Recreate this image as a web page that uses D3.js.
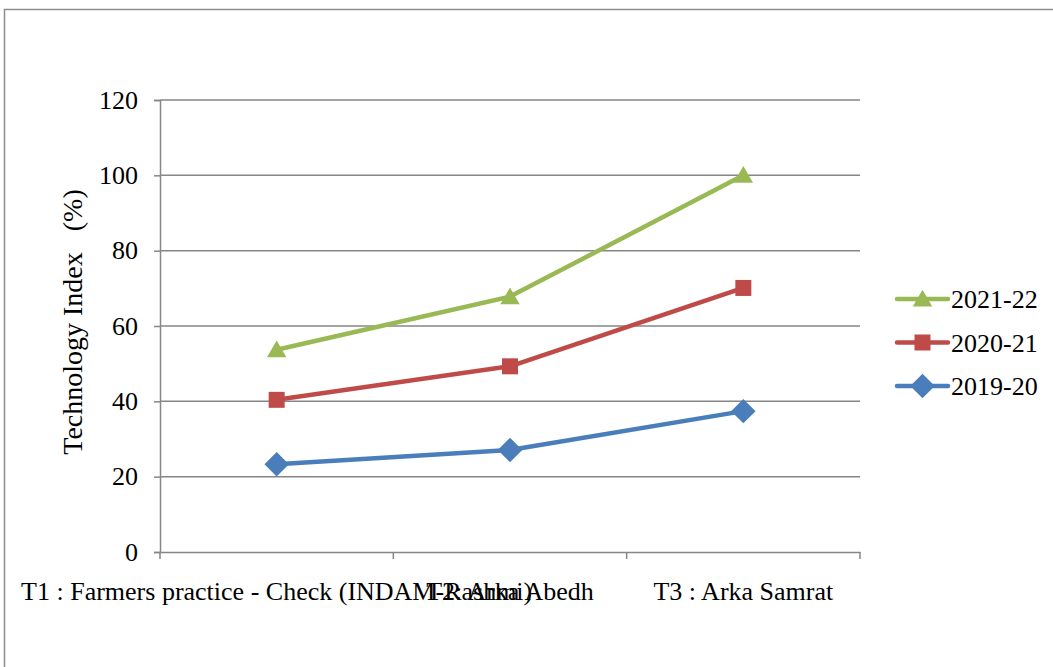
<!DOCTYPE html>
<html>
<head>
<meta charset="utf-8">
<script src="https://cdn.jsdelivr.net/npm/d3@7"></script>
<style>
  body { margin: 0; background: #fff; }
  svg { display: block; }
  svg text { font-family: "Liberation Serif", "Times New Roman", serif; }
</style>
</head>
<body>
<div class="chart"></div>
<script>
const categories = ["T1 : Farmers practice - Check (INDAM-Rashmi)", "T2: Arka Abedh", "T3 : Arka Samrat"];
const seriesNames = ["2019-20", "2020-21", "2021-22"];
const values2019 = [23.3, 27.1, 37.4];
const values2020 = [40.4, 49.3, 70.1];
const values2021 = [53.7, 67.8, 100];
const yTicks = [0, 20, 40, 60, 80, 100, 120];

const width = 1053;
const height = 667;
const margin = {left: 160, right: 193, top: 100, bottom: 115};
const fontSize = 26;

// rotated square for the diamond marker
const squareDiamond = {
  draw(ctx, size) {
    const r = Math.sqrt(size / 2);
    ctx.moveTo(0, -r); ctx.lineTo(r, 0); ctx.lineTo(0, r); ctx.lineTo(-r, 0); ctx.closePath();
  }
};
const flatTriangle = {
  draw(ctx, size) {
    const w = Math.sqrt(size) * 0.72, h = w * 0.95;
    ctx.moveTo(0, -h * 0.55); ctx.lineTo(w * 0.55, h * 0.45); ctx.lineTo(-w * 0.55, h * 0.45); ctx.closePath();
  }
};

const series = [
  {name: seriesNames[2], values: values2021, color: "#98b954", shape: flatTriangle, size: 600},
  {name: seriesNames[1], values: values2020, color: "#be4b48", shape: d3.symbolSquare, size: 256},
  {name: seriesNames[0], values: values2019, color: "#4a7ebb", shape: squareDiamond, size: 300}
];

const svg = d3.select('.chart')
              .append('svg')
              .attr('width', width)
              .attr('height', height);

// outer frame
svg.append("rect")
   .attr("x", 4.5).attr("y", 9.5)
   .attr("width", width + 20).attr("height", height + 20)
   .attr("fill", "none")
   .attr("stroke", "#8c8c8c")
   .attr("stroke-width", 1.5);

const x = d3.scaleBand()
            .domain(categories)
            .range([margin.left, width - margin.right]);

const y = d3.scaleLinear()
            .domain([0, 120])
            .range([height - margin.bottom, margin.top]);

// gridlines
svg.append("g")
   .selectAll("line")
   .data(yTicks.slice(1))
   .join("line")
     .attr("x1", margin.left).attr("x2", width - margin.right)
     .attr("y1", d => y(d)).attr("y2", d => y(d))
     .attr("stroke", "#868686")
     .attr("stroke-width", 1.5);

// y axis
const yAxis = svg.append("g")
   .attr("transform", `translate(${margin.left},0)`)
   .call(d3.axisLeft(y).tickValues(yTicks).tickSize(6).tickPadding(16));
yAxis.attr("font-family", null).attr("font-size", null);
yAxis.select(".domain").attr("stroke", "#868686").attr("stroke-width", 1.5);
yAxis.selectAll(".tick line").attr("stroke", "#868686").attr("stroke-width", 1.5);
yAxis.selectAll("text").attr("font-size", fontSize).attr("fill", "#000");

// x axis
const xAxis = svg.append("g")
   .attr("transform", `translate(0,${y(0)})`)
   .call(d3.axisBottom(x).tickSize(0).tickPadding(0));
xAxis.attr("font-family", null).attr("font-size", null);
xAxis.select(".domain").attr("stroke", "#868686").attr("stroke-width", 1.5);
xAxis.selectAll(".tick text").attr("font-size", fontSize).attr("fill", "#000")
     .attr("y", 48).attr("dy", 0);
// category boundary ticks
svg.append("g")
   .selectAll("line")
   .data(categories.concat([null]))
   .join("line")
     .attr("x1", (d, i) => margin.left + i * x.bandwidth())
     .attr("x2", (d, i) => margin.left + i * x.bandwidth())
     .attr("y1", y(0)).attr("y2", y(0) + 7)
     .attr("stroke", "#868686")
     .attr("stroke-width", 1.5);

// y title
svg.append("text")
   .attr("transform", `translate(82,322) rotate(-90)`)
   .attr("text-anchor", "middle")
   .attr("font-size", 28)
   .attr("xml:space", "preserve")
   .text("Technology Index   (%)");

const line = d3.line()
               .x((d, i) => x(categories[i]) + x.bandwidth() / 2)
               .y(d => y(d));

// draw bottom series first
series.slice().reverse().forEach(s => {
  svg.append("path")
     .datum(s.values)
     .attr("d", line)
     .attr("fill", "none")
     .attr("stroke", s.color)
     .attr("stroke-width", 4.5)
     .attr("stroke-linejoin", "round");
  svg.append("g")
     .selectAll("path")
     .data(s.values)
     .join("path")
       .attr("transform", (d, i) => `translate(${x(categories[i]) + x.bandwidth() / 2},${y(d)})`)
       .attr("d", d3.symbol().type(s.shape).size(s.size))
       .attr("fill", s.color);
});

// legend
const legend = svg.append("g")
   .selectAll("g")
   .data(series)
   .join("g")
     .attr("transform", (d, i) => `translate(897,${299 + i * 43.5})`);
legend.append("line")
   .attr("x1", 0).attr("x2", 51)
   .attr("stroke", d => d.color)
   .attr("stroke-width", 4.5)
   .attr("stroke-linecap", "round");
legend.append("path")
   .attr("transform", "translate(25.5,0)")
   .attr("d", d => d3.symbol().type(d.shape).size(d.size)())
   .attr("fill", d => d.color);
legend.append("text")
   .attr("x", 54)
   .attr("dy", "0.35em")
   .attr("font-size", fontSize)
   .text(d => d.name);
</script>
</body>
</html>
